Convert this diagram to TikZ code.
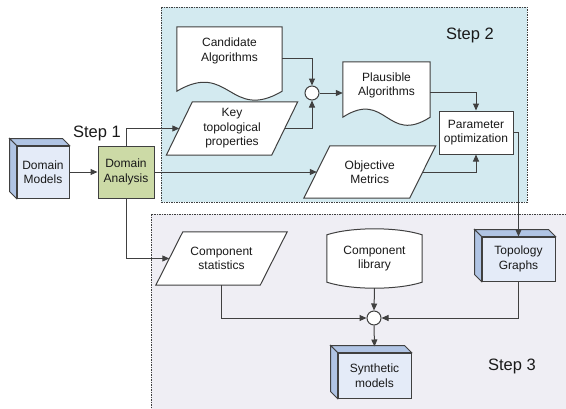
\documentclass[tikz,border=0pt]{standalone}
\usepackage{fontspec}
\setmainfont{Liberation Sans}
\usetikzlibrary{calc,positioning,arrows.meta}
\pgfdeclarelayer{back}
\pgfdeclarelayer{mid}
\pgfsetlayers{back,mid,main}

\definecolor{stepblue}{RGB}{211,234,240}
\definecolor{stepgray}{RGB}{239,238,244}
\definecolor{boxfront}{RGB}{228,235,248}
\definecolor{boxside}{RGB}{176,196,228}
\definecolor{anagreen}{RGB}{204,218,166}
\definecolor{edgegray}{RGB}{64,64,64}

\tikzset{
  txt/.style={font=\fontsize{12}{14.5}\selectfont, align=center, text=black!90, inner sep=0pt},
  plain/.style={txt, draw=edgegray, line width=1pt, fill=white},
  cube/.style={txt, draw=edgegray, line width=1pt, fill=boxfront},
  outline/.style={draw=edgegray, line width=1pt, fill=white},
  junc/.style={circle, draw=edgegray, line width=1pt, fill=white, minimum size=14pt, inner sep=0pt},
  flow/.style={draw=edgegray, line width=1pt, -{Triangle[length=7pt,width=6pt]}},
  stepbox/.style={draw=edgegray, line width=0.6pt, dash pattern=on 1.5pt off 1pt},
  steplabel/.style={font=\fontsize{16.5}{18}\selectfont, text=black!90, inner sep=0pt},
}

% side faces of a box node
\newcommand{\cubefaces}[1]{%
  \draw[fill=boxside, draw=edgegray, line width=1pt] (#1.north west) -- (#1.north east) -- ++(-7,-7) -- ($(#1.north west)+(-7,-7)$) -- cycle;
  \draw[fill=boxside, draw=edgegray, line width=1pt] (#1.north west) -- (#1.south west) -- ++(-7,-7) -- ($(#1.north west)+(-7,-7)$) -- cycle;
}
% slanted outline, #2 = half slant
\newcommand{\paraline}[2]{%
  \draw[outline] ($(#1.north west)+(#2,0)$) -- ($(#1.north east)+(#2,0)$) -- ($(#1.south east)-(#2,0)$) -- ($(#1.south west)-(#2,0)$) -- cycle;
}
% document outline, #2 = extra depth, #3 = half width, #4 = wave
\newcommand{\docline}[4]{%
  \draw[outline] ($(#1.south west)+(0,#2)$) -- (#1.north west) -- (#1.north east) -- ($(#1.south east)+(0,#2)$)
    .. controls +(-#3,#4) and +(#3,-#4) .. ($(#1.south west)+(0,#2)$) -- cycle;
}

\begin{document}
\begin{tikzpicture}[x=1pt, y=-1pt]
  \useasboundingbox (0,0) rectangle (566,408);
  \clip (0,0) rectangle (566,408);

  % nodes
  \node[cube, minimum width=52pt, minimum height=52pt] (models) at (43,172) {Domain\\Models};
  \node[txt, draw=edgegray, line width=1pt, fill=anagreen, minimum width=56pt, minimum height=52pt] (analysis) at (126,172) {Domain\\Analysis};
  \node[steplabel] (step1) at (97,133) {Step 1};
  \node[txt, minimum width=105pt, minimum height=48pt] (candidate) at (229.5,51) {Candidate\\Algorithms};
  \node[txt, minimum width=105pt, minimum height=53pt] (keyprop) at (232,128.5) {Key\\topological\\properties};
  \node[junc] (join1) at (312,93) {};
  \node[txt, minimum width=87pt, minimum height=47pt] (plausible) at (386.5,85.5) {Plausible\\Algorithms};
  \node[plain, minimum width=74pt, minimum height=43pt] (param) at (476,132.5) {Parameter\\optimization};
  \node[txt, minimum width=105.5pt, minimum height=52pt] (objective) at (369.75,172) {Objective\\Metrics};
  \node[steplabel] (step2) at (470,35) {Step 2};
  \node[cube, minimum width=73pt, minimum height=44pt] (topo) at (518.5,259) {Topology\\Graphs};
  \node[txt, minimum width=104pt, minimum height=53pt] (compstat) at (221.5,258.5) {Component\\statistics};
  \node[txt, minimum width=95pt, minimum height=47pt] (complib) at (374.5,258.5) {Component\\library};
  \node[junc] (join2) at (374,318) {};
  \node[cube, minimum width=73pt, minimum height=45pt] (synth) at (374.5,375.5) {Synthetic\\models};
  \node[steplabel] (step3) at (512,366) {Step 3};

  % step areas
  \begin{pgfonlayer}{back}
    \draw[stepbox, fill=stepblue] (161,7) rectangle (527,202);
    \draw[stepbox, fill=stepgray] (151,214) rectangle (580,420);
  \end{pgfonlayer}

  % shape outlines
  \begin{pgfonlayer}{mid}
    \cubefaces{models}
    \cubefaces{topo}
    \cubefaces{synth}
    \docline{candidate}{16}{52.5}{31}
    \docline{plausible}{8}{43.5}{28}
    \paraline{keyprop}{13}
    \paraline{objective}{13}
    \paraline{compstat}{13.5}
    \draw[outline] (complib.north west) .. controls +(25,-8) and +(-25,-8) .. (complib.north east)
      -- (complib.south east) .. controls +(-25,8) and +(25,8) .. (complib.south west) -- cycle;
  \end{pgfonlayer}

  % connectors
  \draw[flow] (models) -- (analysis);
  \draw[flow] (analysis.north) |- (keyprop.west);
  \draw[flow] (analysis.east) -- (objective.west);
  \draw[flow] ([yshift=-7pt]candidate.east) -| (join1.north);
  \draw[flow] (keyprop.east) -| (join1.south);
  \draw[flow] (join1.east) -- (join1.east -| plausible.west);
  \draw[flow] ([yshift=-6.5pt]plausible.east) -| (param.north);
  \draw[flow] (objective.east) -| (param.south);
  \draw[flow] (param.east) -| (topo.north);
  \draw[flow] (topo.south) |- (join2.east);
  \draw[flow] (analysis.south) |- (compstat.west);
  \draw[flow] (compstat.south) |- (join2.west);
  \draw[flow] ([yshift=-6pt]complib.south) -- (join2.north);
  \draw[flow] (join2.south) -- ([yshift=6pt]synth.north);
\end{tikzpicture}
\end{document}
